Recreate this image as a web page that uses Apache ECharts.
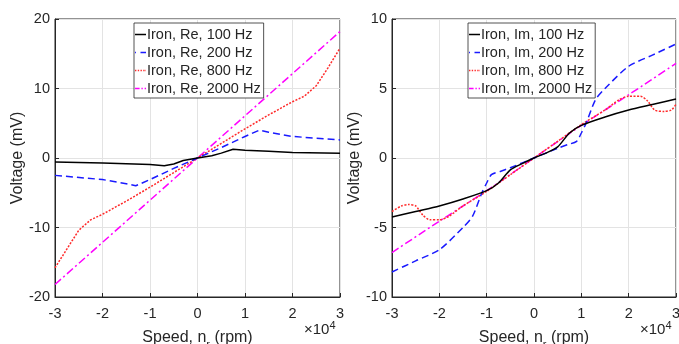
<!DOCTYPE html>
<html><head><meta charset="utf-8">
<script src="https://cdn.jsdelivr.net/npm/echarts@6/dist/echarts.min.js"></script>
<style>html,body{margin:0;padding:0;background:#fff}#c{width:679px;height:344px}</style>
</head><body><div id="c"></div>
<script>
// x values in units of 1e4 rpm
const reBlackX = [-3,-2,-1,-0.7,-0.5,-0.3,0,0.3,0.5,0.75,1,1.5,2,3];
const reBlackY = [-0.58,-0.72,-0.95,-1.1,-0.86,-0.35,0,0.33,0.7,1.25,1.1,0.96,0.8,0.67];
const reBlueX = [-3,-2,-1.5,-1.3,-1,-0.5,0,0.5,1,1.3,1.5,2,3];
const reBlueY = [-2.5,-3.1,-3.7,-4.0,-3.1,-1.5,0,1.5,3.1,4.0,3.7,3.1,2.6];
const reRedX = [-3,-2.5,-2.25,-2,-1.5,-1,-0.5,0,0.5,1,1.5,2,2.25,2.5,2.75,3];
const reRedY = [-15.8,-10.4,-8.9,-8.1,-6.2,-4.2,-2.1,0,2.1,4.2,6.2,8.1,8.9,10.4,13.0,15.8];
const reMagX = [-3,0,3];
const reMagY = [-18.2,0,18.2];

const imBlackX = [-3,-2.5,-2,-1.5,-1,-0.75,-0.5,-0.25,0,0.25,0.5,0.75,1,1.5,2,2.5,3];
const imBlackY = [-4.25,-3.85,-3.45,-2.95,-2.35,-1.8,-0.85,-0.4,0,0.35,0.8,1.8,2.35,2.95,3.45,3.85,4.25];
const imBlueX = [-3,-2.5,-2,-1.5,-1.3,-1.1,-1,-0.9,-0.7,-0.5,0,0.5,0.7,0.9,1,1.1,1.3,1.5,2,2.5,3];
const imBlueY = [-8.2,-7.4,-6.6,-5.0,-4.2,-2.5,-1.8,-1.2,-0.95,-0.7,0,0.7,0.95,1.2,1.8,2.5,4.2,5.0,6.6,7.4,8.2];
const imRedX = [-3,-2.8,-2.65,-2.5,-2.35,-2.2,-2.0,-1.8,-1.5,-1,-0.5,0,0.5,1,1.5,1.8,2.0,2.25,2.4,2.55,2.75,2.9,3];
const imRedY = [-3.85,-3.45,-3.35,-3.45,-4.1,-4.45,-4.45,-4.2,-3.45,-2.4,-1.2,0,1.2,2.4,3.45,4.2,4.45,4.45,4.1,3.45,3.35,3.45,3.85];
const imMagX = [-3,-2,-1,0,1,2,3];
const imMagY = [-6.8,-4.55,-2.35,0,2.35,4.55,6.8];

const reNames = ['Iron, Re, 100 Hz','Iron, Re, 200 Hz','Iron, Re, 800 Hz','Iron, Re, 2000 Hz'];
const imNames = ['Iron, Im, 100 Hz','Iron, Im, 200 Hz','Iron, Im, 800 Hz','Iron, Im, 2000 Hz'];

const zip = (a,b)=>a.map((v,i)=>[v,b[i]]);
const txt = '#262626';
const font = 'Liberation Sans, Arial, sans-serif';
const styles = [
  {color:'#000000', type:'solid', icon:'path://M0,0h12v1.5h-12z'},
  {color:'#1a1aff', type:[7,4], icon:'path://M0,0h1v1.5h-1zM6,0h6v1.5h-6z'},
  {color:'#ff2a2a', type:[2,1.5], icon:'path://M0,0h1.5v1.5h-1.5zM3,0h1.5v1.5h-1.5zM6,0h1.5v1.5h-1.5zM9,0h1.5v1.5h-1.5zM11.5,0h0.5v1.5h-0.5z'},
  {color:'#ff00ff', type:[8,3,2,3], icon:'path://M0,0h5v1.5h-5zM7,0h1.5v1.5h-1.5zM10.5,0h1.5v1.5h-1.5z'}
];

function xAx(gi){
  return {type:'value', gridIndex:gi, min:-3, max:3, interval:1,
    name:'{a|Speed, n}{s|r}{a| (rpm)}', nameLocation:'middle', nameGap:28,
    nameTextStyle:{rich:{a:{fontSize:16,color:txt,fontFamily:font},s:{fontSize:11,color:txt,fontFamily:font,padding:[14,0,0,0]}}},
    axisLine:{onZero:false,lineStyle:{color:txt,width:1}}, axisTick:{inside:true,length:4,lineStyle:{color:txt}},
    axisLabel:{color:txt,fontSize:14.5,fontFamily:font,margin:9},
    splitLine:{show:true,lineStyle:{color:'#e3e3e3',width:1}}};
}
function yAx(gi,lim,step){
  return {type:'value', gridIndex:gi, min:-lim, max:lim, interval:step,
    name:'Voltage (mV)', nameLocation:'middle', nameGap:28, nameRotate:90,
    nameTextStyle:{fontSize:16,color:txt,fontFamily:font},
    axisLine:{show:true,onZero:false,lineStyle:{color:txt,width:1}}, axisTick:{show:true,inside:true,length:4,lineStyle:{color:txt}},
    axisLabel:{color:txt,fontSize:14.5,fontFamily:font,margin:5},
    splitLine:{show:true,lineStyle:{color:'#e3e3e3',width:1}}};
}
const series = [];
const reData = [[reBlackX,reBlackY],[reBlueX,reBlueY],[reRedX,reRedY],[reMagX,reMagY]];
const imData = [[imBlackX,imBlackY],[imBlueX,imBlueY],[imRedX,imRedY],[imMagX,imMagY]];
reData.forEach((d,i)=>series.push({name:reNames[i],type:'line',xAxisIndex:0,yAxisIndex:0,data:zip(d[0],d[1]),
  showSymbol:false,symbol:'none',lineStyle:{color:styles[i].color,type:styles[i].type,width:1.5},itemStyle:{color:styles[i].color},z:10-i}));
imData.forEach((d,i)=>series.push({name:imNames[i],type:'line',xAxisIndex:1,yAxisIndex:1,data:zip(d[0],d[1]),
  showSymbol:false,symbol:'none',smooth:0.25,lineStyle:{color:styles[i].color,type:styles[i].type,width:1.5},itemStyle:{color:styles[i].color},z:10-i}));

function leg(left,names){
  return {show:true,orient:'vertical',left:left,top:23,
    data:names.map((n,i)=>({name:n,icon:styles[i].icon})),
    itemWidth:11,itemHeight:1.5,itemGap:3,symbolKeepAspect:false,
    padding:[4,3,2,1],backgroundColor:'#fff',borderColor:txt,borderWidth:0.8,borderRadius:0,
    textStyle:{fontSize:14.5,color:txt,fontFamily:font,padding:[0,0,0,-4]},z:20};
}
const chart = echarts.init(document.getElementById('c'),null,{renderer:'canvas'});
chart.setOption({
  animation:false,
  grid:[{left:55,top:19,width:285,height:278,show:true,borderColor:txt,borderWidth:1,outerBoundsMode:'none',containLabel:false},
        {left:392,top:19,width:284,height:278,show:true,borderColor:txt,borderWidth:1,outerBoundsMode:'none',containLabel:false}],
  xAxis:[xAx(0),xAx(1)],
  yAxis:[yAx(0,20,10),yAx(1,10,5)],
  legend:[leg(134,reNames),leg(468,imNames)],
  series:series,
  graphic:[
    {type:'text',left:304,top:320,style:{text:'{m|×10}{p|4}',rich:{m:{fontSize:15,fill:txt,fontFamily:font},p:{fontSize:11,fill:txt,fontFamily:font,padding:[0,0,9,0]}}}},
    {type:'text',left:640,top:320,style:{text:'{m|×10}{p|4}',rich:{m:{fontSize:15,fill:txt,fontFamily:font},p:{fontSize:11,fill:txt,fontFamily:font,padding:[0,0,9,0]}}}}
  ]
});
</script></body></html>
